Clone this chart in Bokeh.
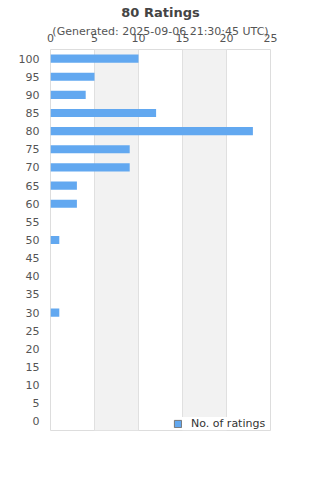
from bokeh.plotting import figure
from bokeh.models import Legend, LegendItem, FixedTicker, ColumnDataSource
from bokeh.embed import file_html
from bokeh.resources import INLINE

categories = ["100", "95", "90", "85", "80", "75", "70", "65", "60", "55", "50",
              "45", "40", "35", "30", "25", "20", "15", "10", "5", "0"]
counts = [10, 5, 4, 12, 23, 9, 9, 3, 3, 0, 1, 0, 0, 0, 1, 0, 0, 0, 0, 0, 0]
x_ticks = [0, 5, 10, 15, 20, 25]
title_text = "80 Ratings"
subtitle_text = "(Generated: 2025-09-06 21:30:45 UTC)"
series_name = "No. of ratings"

FONT = "DejaVu Sans"
BAR = "#62a8f0"

p = figure(width=320, height=480, output_backend="svg", toolbar_location=None,
           y_range=list(reversed(categories)), x_range=(0, 25),
           x_axis_location="above",
           min_border_left=50, min_border_top=0, min_border_right=50,
           min_border_bottom=50)
p.outline_line_color = "#dddddd"
p.background_fill_color = "white"
p.border_fill_color = "white"

p.title.text = title_text
p.title.text_font = FONT
p.title.text_font_size = "13px"
p.title.text_font_style = "bold"
p.title.text_color = "#444444"
p.title.align = "center"
p.title.standoff = 4

src = ColumnDataSource(dict(cat=categories, val=counts))
p.hbar(y="cat", right="val", left=0, height=0.45, source=src,
       fill_color=BAR, line_color=None)

# zero-size proxy so the legend shows a bordered swatch
proxy = ColumnDataSource(dict(l=[0], r=[0], t=[categories[-1]], b=[categories[-1]]))
dummy = p.quad(left="l", right="r", top="t", bottom="b", source=proxy,
               fill_color=BAR, line_color="#777777", line_width=1)

p.xaxis.ticker = FixedTicker(ticks=x_ticks)
p.xaxis.axis_line_color = None
p.xaxis.major_tick_line_color = None
p.xaxis.minor_tick_line_color = None
p.xaxis.major_tick_out = 0
p.xaxis.major_tick_in = 0
p.xaxis.major_label_text_font = FONT
p.xaxis.major_label_text_font_size = "11px"
p.xaxis.major_label_text_color = "#555555"
p.xaxis.major_label_standoff = 8
p.xaxis.axis_label = subtitle_text
p.xaxis.axis_label_text_font = FONT
p.xaxis.axis_label_text_font_size = "11px"
p.xaxis.axis_label_text_font_style = "normal"
p.xaxis.axis_label_text_color = "#555555"
p.xaxis.axis_label_standoff = -7

p.yaxis.axis_line_color = None
p.yaxis.major_tick_line_color = None
p.yaxis.minor_tick_line_color = None
p.yaxis.major_tick_out = 0
p.yaxis.major_tick_in = 0
p.yaxis.major_label_text_font = FONT
p.yaxis.major_label_text_font_size = "11px"
p.yaxis.major_label_text_color = "#555555"
p.yaxis.major_label_standoff = 11

p.ygrid.grid_line_color = None
p.xgrid.grid_line_color = "#e0e0e0"
p.xgrid.band_fill_color = "#f2f2f2"
p.xgrid.band_fill_alpha = 1.0

legend = Legend(items=[LegendItem(label=series_name, renderers=[dummy])],
                location=(123, 0), orientation="vertical",
                label_text_font=FONT, label_text_font_size="11px",
                label_text_color="#333333", glyph_width=9, glyph_height=9,
                label_height=12, label_width=10,
                padding=4, margin=0, spacing=0, label_standoff=9,
                border_line_color=None, background_fill_color="white",
                background_fill_alpha=1.0)
p.add_layout(legend, "center")

open("out.html", "w").write(file_html(p, INLINE))
